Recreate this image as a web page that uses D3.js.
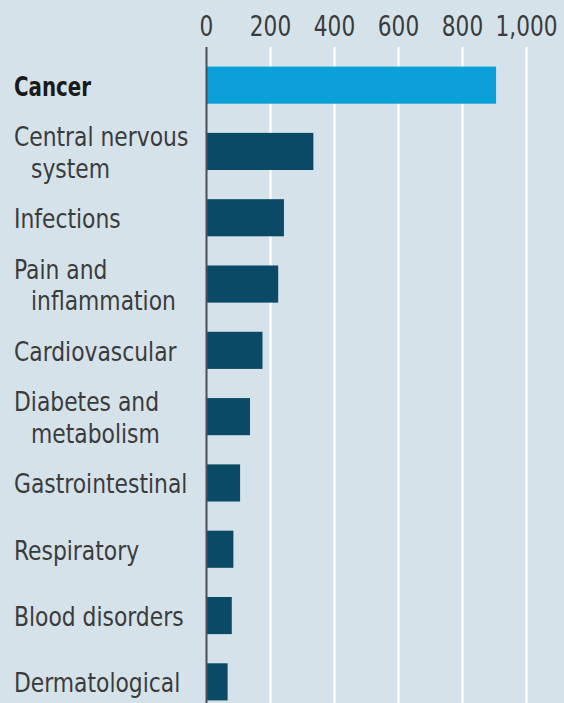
<!DOCTYPE html>
<html>
<head>
<meta charset="utf-8">
<script src="https://cdn.jsdelivr.net/npm/d3@7"></script>
<style>
  html, body { margin: 0; padding: 0; background: #d5e2ea; }
  svg { display: block; }
</style>
</head>
<body>
<svg id="chart"></svg>
<script>
// Categories (line breaks as in the original labels)
var categories = [
  'Cancer',
  'Central nervous\nsystem',
  'Infections',
  'Pain and\ninflammation',
  'Cardiovascular',
  'Diabetes and\nmetabolism',
  'Gastrointestinal',
  'Respiratory',
  'Blood disorders',
  'Dermatological'
];
var values = [905, 334, 242, 224, 175, 136, 105, 84, 79, 66];
var tickValues = [0, 200, 400, 600, 800, 1000];

var width = 564;
var height = 703;

var svg = d3.select('#chart')
  .attr('width', width)
  .attr('height', height);

svg.append('rect')
  .attr('width', width)
  .attr('height', height)
  .attr('fill', '#d5e2ea');

var x = d3.scaleLinear().domain([0, 1000]).range([206.5, 526.5]);
var y = d3.scaleBand()
  .domain(categories)
  .range([52, 715])
  .paddingInner(0.44)
  .paddingOuter(0.22);

// no narrow font installed, so squeeze a condensed one horizontally
var font = '"Liberation Sans Narrow", "DejaVu Sans Condensed", sans-serif';

// gridlines
svg.selectAll('.grid')
  .data(tickValues.slice(1))
  .enter()
    .append('line')
    .attr('x1', function (d) { return x(d); })
    .attr('x2', function (d) { return x(d); })
    .attr('y1', 47)
    .attr('y2', height)
    .attr('stroke', '#ffffff')
    .attr('stroke-width', 2.2);

// tick labels
svg.selectAll('.tick-label')
  .data(tickValues)
  .enter()
    .append('text')
    .attr('transform', function (d) { return 'translate(' + x(d) + ',36) scale(0.83,1)'; })
    .attr('text-anchor', 'middle')
    .attr('font-family', font)
    .attr('font-size', 29)
    .attr('fill', '#3b3b3b')
    .text(function (d) { return d3.format(',')(d); });

// bars
svg.selectAll('.bar')
  .data(values)
  .enter()
    .append('rect')
    .attr('x', x(0))
    .attr('y', function (d, i) { return y(categories[i]); })
    .attr('width', function (d) { return x(d) - x(0); })
    .attr('height', y.bandwidth())
    .attr('fill', function (d, i) { return i === 0 ? '#0ca0d8' : '#0b4a66'; });

// zero axis line
svg.append('line')
  .attr('x1', x(0))
  .attr('x2', x(0))
  .attr('y1', 47)
  .attr('y2', height)
  .attr('stroke', '#4a4f55')
  .attr('stroke-width', 2);

// category labels
var lineHeight = 31.5;
var squeeze = 0.9;
svg.selectAll('.label')
  .data(categories)
  .enter()
    .append('text')
    .attr('transform', function (d, i) {
      return 'translate(14,0) scale(' + (i === 0 ? 0.816 : squeeze) + ',1)';
    })
    .attr('font-family', font)
    .attr('font-size', 27)
    .attr('font-weight', function (d, i) { return i === 0 ? 'bold' : 'normal'; })
    .attr('fill', function (d, i) { return i === 0 ? '#1a1a1a' : '#3b3b3b'; })
    .each(function (d) {
      var lines = d.split('\n');
      var cy = y(d) + y.bandwidth() / 2;
      var first = cy + 10.5 - (lines.length - 1) * lineHeight / 2;
      var t = d3.select(this);
      lines.forEach(function (line, k) {
        t.append('tspan')
          .attr('x', k === 0 ? 0 : 17 / squeeze)
          .attr('y', first + k * lineHeight)
          .text(line);
      });
    });
</script>
</body>
</html>
